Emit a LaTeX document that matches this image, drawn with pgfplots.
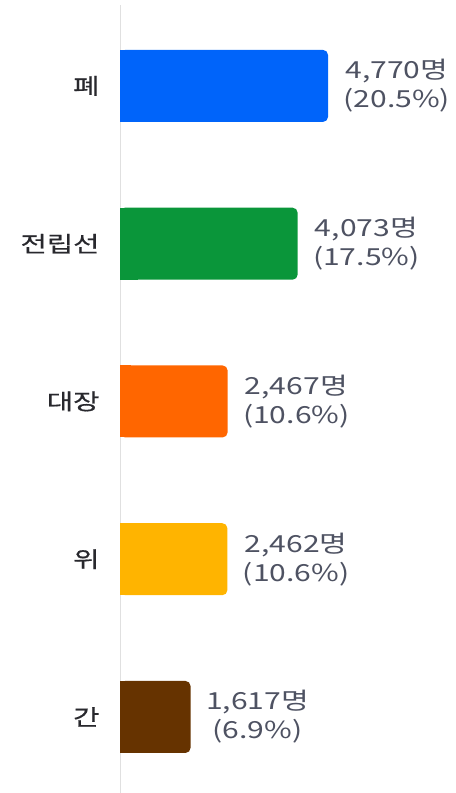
\documentclass[border=0pt]{standalone}
\usepackage{pgfplots}
\pgfplotsset{compat=1.18}
\usepackage{fontspec}
\setmainfont[FakeStretch=1.28]{Noto Sans CJK KR}
\newfontfamily\catfont[FakeStretch=1.3, FakeBold=0.5]{Noto Sans CJK KR}
\definecolor{cblue}{RGB}{0,100,250}
\definecolor{cgreen}{RGB}{10,150,58}
\definecolor{corange}{RGB}{255,102,0}
\definecolor{cyellow}{RGB}{255,180,0}
\definecolor{cbrown}{RGB}{102,51,0}
\definecolor{valtext}{RGB}{78,82,98}
\definecolor{cattext}{RGB}{40,40,45}
\begin{document}
\begin{tikzpicture}
\useasboundingbox (0,0) rectangle (456bp,793bp);
\begin{axis}[
  at={(120bp,0bp)}, anchor=south west,
  scale only axis, width=336bp, height=788bp,
  xmin=0, xmax=7705,
  ymin=-0.482, ymax=4.513,
  hide x axis,
  axis y line=left,
  y axis line style={draw=black!12, line width=0.8bp, -},
  ytick={0,1,2,3,4},
  yticklabels={간,위,대장,전립선,폐},
  major tick length=0pt,
  yticklabel style={font=\catfont\fontsize{22bp}{26bp}\selectfont, text=cattext, xshift=-17bp},
  clip=false,
  xbar, bar width=72bp, bar shift=0pt,
  point meta=x,
  nodes near coords align={horizontal},
  every node near coord/.append style={font=\fontsize{23.5bp}{29bp}\selectfont, text=valtext, align=center, anchor=west, xshift=12bp},
  /pgf/number format/.cd, fixed, 1000 sep={,}, assume math mode=true,
]
% full rounded bars with labels
\addplot[fill=cblue, draw=none, rounded corners=5bp, nodes near coords={\pgfmathprintnumber{\pgfplotspointmeta}명\\(20.5\%)}] coordinates {(4770,4)};
\addplot[fill=cgreen, draw=none, rounded corners=5bp, nodes near coords={\pgfmathprintnumber{\pgfplotspointmeta}명\\(17.5\%)}] coordinates {(4073,3)};
\addplot[fill=corange, draw=none, rounded corners=5bp, nodes near coords={\pgfmathprintnumber{\pgfplotspointmeta}명\\(10.6\%)}] coordinates {(2467,2)};
\addplot[fill=cyellow, draw=none, rounded corners=5bp, nodes near coords={\pgfmathprintnumber{\pgfplotspointmeta}명\\(10.6\%)}] coordinates {(2462,1)};
\addplot[fill=cbrown, draw=none, rounded corners=5bp, nodes near coords={\pgfmathprintnumber{\pgfplotspointmeta}명\\(6.9\%)}] coordinates {(1617,0)};
% square left ends (cover the left rounded corners)
\addplot[fill=cblue, draw=none] table[x expr=\thisrow{v}/10, y=pos, row sep=\\] {v pos\\ 4770 4\\};
\addplot[fill=cgreen, draw=none] table[x expr=\thisrow{v}/10, y=pos, row sep=\\] {v pos\\ 4073 3\\};
\addplot[fill=corange, draw=none] table[x expr=\thisrow{v}/10, y=pos, row sep=\\] {v pos\\ 2467 2\\};
\addplot[fill=cyellow, draw=none] table[x expr=\thisrow{v}/10, y=pos, row sep=\\] {v pos\\ 2462 1\\};
\addplot[fill=cbrown, draw=none] table[x expr=\thisrow{v}/10, y=pos, row sep=\\] {v pos\\ 1617 0\\};
\end{axis}
\end{tikzpicture}
\end{document}
